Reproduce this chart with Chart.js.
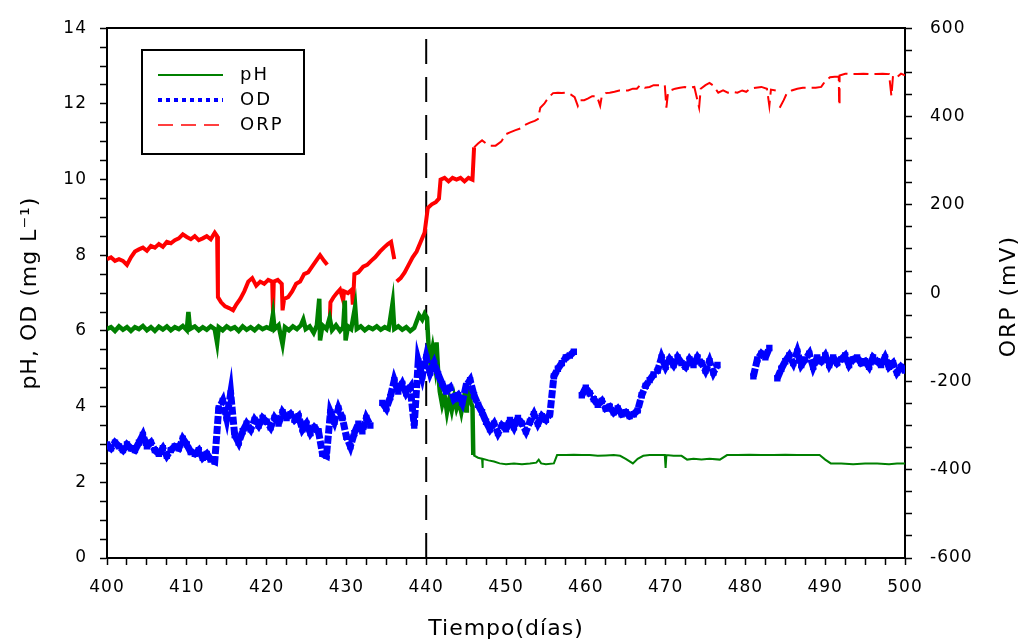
<!DOCTYPE html>
<html>
<head>
<meta charset="utf-8">
<script src="https://cdn.jsdelivr.net/npm/chart.js@4.4.1/dist/chart.umd.min.js"></script>
<style>
html,body{margin:0;padding:0;background:#fff;overflow:hidden}
#wrap{width:1022px;height:644px}
</style>
</head>
<body>
<div id="wrap"><canvas id="c" width="1022" height="644"></canvas></div>
<script>
// ---------------- DATA ----------------
const seriesLabels = ['pH', 'OD', 'ORP'];
const xTitle = 'Tiempo(días)';
const yLeftTitle = 'pH, OD (mg L⁻¹)';
const yRightTitle = 'ORP (mV)';

// pH (left axis)
const phDays = [
  400,400.5,401,401.5,402,402.5,403,403.5,404,404.5,405,405.5,406,406.5,407,407.5,408,408.5,409,409.5,
  410,410.2,410.4,411,411.5,412,412.5,413,413.5,413.8,414,414.5,415,415.5,416,416.5,417,417.5,418,418.5,
  419,419.5,420,420.5,420.8,421,421.5,422,422.3,422.8,423.3,423.8,424.3,424.6,424.9,425.4,425.9,426.3,426.6,426.7,
  427,427.5,427.9,428.2,428.7,429.2,429.6,429.8,429.9,430.2,430.6,431.1,431.3,431.8,432.3,432.8,433.3,433.8,434.3,434.8,
  435.3,435.8,436,436.5,437,437.5,438,438.5,438.8,439.1,439.5,439.8,440.1,440.3,440.5,440.8,441.1,441.3,441.5,441.7,
  442,442.3,442.6,442.9,443.2,443.5,443.8,444.1,444.4,444.7,445,445.1,445.3,445.6,445.8,445.9,446.5,447,447.05,447.1,
  447.8,448.5,449.2,450,451,452,453,453.8,454.1,454.4,455,456,456.4,457.5,458.5,459.5,460.5,461.5,462.5,463.5,
  464.3,465,465.9,466.5,467.2,468,469,469.9,470,470.1,471,472,472.7,473.5,474.5,475.5,476.8,477.7,479,480.5,
  482,483.5,485,486.5,488,489.3,490,490.7,492,493.5,495,496.5,498,499,500
];
const phValues = [
  6.05,6.1,6.0,6.12,6.03,6.1,6.0,6.1,6.05,6.13,6.02,6.1,6.0,6.11,6.04,6.12,6.02,6.1,6.05,6.13,
  6.02,6.5,6.05,6.12,6.02,6.1,6.03,6.12,6.05,5.68,6.1,6.02,6.12,6.05,6.1,6.0,6.12,6.03,6.1,6.02,
  6.12,6.05,6.1,6.05,6.45,6.05,6.15,5.65,6.1,6.02,6.12,6.05,6.15,6.3,6.05,6.12,5.95,6.15,6.85,5.75,
  6.15,6.05,6.35,6.02,6.15,6.0,6.1,6.8,5.75,6.12,6.05,6.65,6.05,6.12,6.02,6.1,6.05,6.12,6.03,6.1,
  6.05,6.75,6.05,6.12,6.03,6.1,6.0,6.08,6.25,6.42,6.3,6.45,6.35,5.6,5.2,5.55,5.1,5.7,4.9,4.4,
  4.05,4.3,3.85,4.2,3.9,4.25,3.95,4.15,3.85,4.2,3.9,4.6,4.35,4.1,4.0,2.72,2.65,2.62,2.38,2.62,
  2.58,2.55,2.5,2.48,2.5,2.48,2.5,2.52,2.6,2.5,2.48,2.5,2.72,2.72,2.73,2.72,2.72,2.7,2.71,2.72,
  2.7,2.62,2.5,2.62,2.7,2.72,2.72,2.72,2.38,2.72,2.7,2.7,2.6,2.62,2.6,2.62,2.6,2.72,2.72,2.73,
  2.72,2.72,2.73,2.72,2.72,2.72,2.6,2.5,2.5,2.48,2.5,2.5,2.48,2.5,2.5
];

// OD (left axis), one reading every half day from day 400
const odStartDay = 400;
const odDayStep = 0.5;
const odValues = [
  3.0,2.9,3.05,2.95,2.85,3.0,2.9,2.85,3.05,3.25,     // 400-404.5
  2.95,3.05,2.85,2.75,2.9,2.7,2.85,2.95,2.9,3.15,    // 405-409.5
  3.0,2.8,2.75,2.85,2.65,2.75,2.6,2.55,3.95,4.15,    // 410-414.5
  3.7,4.35,3.25,3.05,3.35,3.55,3.4,3.65,3.5,3.7,     // 415-419.5
  3.6,3.45,3.7,3.55,3.85,3.7,3.8,3.65,3.75,3.4,      // 420-424.5
  3.55,3.3,3.45,3.35,2.75,2.7,3.85,3.6,3.95,3.7,     // 425-429.5
  3.2,2.95,3.3,3.55,3.35,3.7,3.5,null,null,4.1,      // 430-434.5
  3.95,4.25,4.7,4.4,4.6,4.35,4.5,3.5,5.2,4.8,        // 435-439.5
  5.3,4.9,5.15,4.85,4.6,4.4,4.5,4.2,4.3,4.1,         // 440-444.5
  4.55,4.7,4.3,4.05,3.85,3.6,3.4,3.55,3.3,3.5,       // 445-449.5
  3.4,3.65,3.45,3.7,3.55,3.35,3.6,3.8,3.55,3.75,     // 450-454.5
  3.65,3.8,4.8,5.0,5.15,5.3,5.35,5.45,null,4.3,      // 455-459.5
  4.5,4.35,4.2,4.05,4.15,3.95,4.0,3.85,3.95,3.8,     // 460-464.5
  3.85,3.75,3.8,3.9,4.3,4.55,4.7,4.85,4.95,5.3,      // 465-469.5
  5.05,5.25,5.1,5.3,5.15,5.05,5.25,5.1,5.3,5.15,     // 470-474.5
  4.95,5.2,4.9,5.1,null,null,null,null,null,null,    // 475-479.5
  null,null,4.8,5.25,5.4,5.3,5.55,null,4.75,5.0,     // 480-484.5
  5.2,5.35,5.15,5.45,5.1,5.25,5.4,5.05,5.3,5.2,      // 485-489.5
  5.35,5.1,5.3,5.15,5.25,5.35,5.1,5.25,5.3,5.15,     // 490-494.5
  5.2,5.05,5.3,5.2,5.1,5.3,5.05,5.15,4.9,5.05,       // 495-499.5
  4.95                                               // 500
];

// ORP (right axis, mV)
const orpDays = [
  400,400.5,401,401.5,402,402.5,403,403.5,404,404.5,405,405.5,406,406.5,407,407.5,408,408.5,409,409.5,
  410,410.5,411,411.5,412,412.5,413,413.5,413.8,413.9,414.3,414.8,415.3,415.8,416.2,416.7,417.2,417.7,418.2,418.7,
  419.2,419.7,420.2,420.7,420.8,420.9,421.4,421.9,422,422.2,422.7,423.2,423.7,424.2,424.7,425.2,425.7,426.2,426.7,427.2,
  427.6,427.75,427.9,428,428.4,428.8,429.2,429.6,429.7,430.2,430.7,430.8,430.9,431,431.5,432.1,432.6,433.1,433.6,434.2,
  434.7,435.2,435.6,436,436.15,436.3,436.8,437.3,437.8,438.3,438.8,439.3,439.8,440.2,440.7,441.2,441.6,441.8,442.3,442.8,
  443.3,443.8,444.3,444.8,445.3,445.8,446,446.5,447,447.5,448,448.7,449.4,450,450.5,451.2,451.8,452.4,453,453.6,
  454,454.3,454.8,455.1,455.5,455.9,456.5,457,457.6,458.1,458.6,459,459.3,459.8,460.3,460.8,461.4,461.8,462,462.5,
  463,463.6,464.2,464.7,465.3,465.9,466.4,466.8,467.4,468,468.5,469.2,469.9,470.1,470.3,470.6,471.2,471.8,472.4,473,
  473.6,474.2,474.4,475,475.5,475.9,476.6,477.2,477.8,478.4,479,479.6,480.1,480.6,481.3,482,482.7,483,483.2,483.8,
  484,484.3,484.8,485.2,485.8,486.5,487.2,488,488.8,489.5,490,490.6,491.2,491.7,491.75,491.8,492.5,493.2,494,494.8,
  495.6,496.4,497.2,498,498.3,498.5,499,499.5,500
];
const orpValues = [
  77,81,73,77,73,64,81,94,99,103,96,107,103,111,105,116,113,120,124,133,
  127,122,129,120,124,129,122,137,129,-9,-21,-30,-34,-39,-26,-13,4,26,34,17,
  26,21,30,26,-43,26,30,21,-39,-13,-9,4,21,26,43,47,60,73,86,73,
  64,null,-73,-21,-9,0,8,-17,4,0,8,-26,4,43,47,60,64,73,81,94,
  103,111,116,77,null,26,34,47,64,81,94,116,137,193,201,206,214,257,261,253,
  261,257,261,253,261,257,330,339,346,339,334,334,343,360,364,369,373,381,386,390,
  394,420,429,437,446,453,454,453,454,450,444,424,437,437,441,446,446,424,446,453,
  454,456,459,459,459,463,463,471,465,467,471,471,471,420,454,459,463,465,467,465,
  467,420,463,471,476,471,454,459,454,456,454,459,456,463,465,467,463,424,461,459,
  null,420,437,453,459,463,465,465,465,467,480,489,490,490,425,493,497,496,496,497,
  496,496,497,496,446,493,489,497,493
];

// Marker day (vertical dashed line) and axis ranges / ticks
const eventDay = [440, 440];
const eventLevel = [0, 14];
const xRange = [400, 500];
const yLeftRange = [0, 14];
const yRightRange = [-600, 600];
const xTickStep = 2.5, xLabelEvery = 10;
const yLeftTickStep = 0.5, yLeftLabelEvery = 2;
const yRightTickStep = 50, yRightLabelEvery = 200;

// ---------------- CHART ----------------
const FONT = "'DejaVu Sans', 'Liberation Sans', sans-serif";
Chart.defaults.font.family = FONT;
Chart.defaults.color = '#000';

const toXY = (xs, ys) => xs.map((x, i) => ({x: x, y: ys[i]}));
const odData = odValues.map((v, i) => ({x: odStartDay + i * odDayStep, y: v}));

const COLORS = {pH: '#008000', OD: '#0000ff', ORP: '#ff0000'};

const legendStyle = {
  pH:  {dash: [], width: 2},
  OD:  {dash: [4, 4], width: 4},
  ORP: {dash: [15, 8], width: 1.5}
};

const extras = {
  id: 'extras',
  beforeDraw(chart) {
    chart.ctx.letterSpacing = '1px';
  },
  afterDraw(chart) {
    const ctx = chart.ctx;
    ctx.save();
    // legend box
    const bx = 142, by = 50, bw = 162, bh = 104;
    ctx.fillStyle = '#fff';
    ctx.fillRect(bx, by, bw, bh);
    ctx.lineWidth = 2;
    ctx.strokeStyle = '#000';
    ctx.setLineDash([]);
    ctx.strokeRect(bx, by, bw, bh);
    ctx.font = '18px ' + FONT;
    ctx.letterSpacing = '2px';
    ctx.textBaseline = 'middle';
    ctx.textAlign = 'left';
    seriesLabels.forEach((lab, i) => {
      const y = 75 + i * 25;
      const st = legendStyle[lab];
      ctx.beginPath();
      ctx.setLineDash(st.dash);
      ctx.lineWidth = st.width;
      ctx.strokeStyle = COLORS[lab];
      ctx.moveTo(158, y);
      ctx.lineTo(223, y);
      ctx.stroke();
      ctx.setLineDash([]);
      ctx.fillStyle = '#000';
      ctx.fillText(lab, 240, y);
    });
    // right axis title (reads bottom to top)
    const a = chart.chartArea;
    ctx.translate(chart.width - 12.5, (a.top + a.bottom) / 2 + 3);
    ctx.rotate(-Math.PI / 2);
    ctx.font = '22px ' + FONT;
    ctx.letterSpacing = '2px';
    ctx.textAlign = 'center';
    ctx.textBaseline = 'middle';
    ctx.fillStyle = '#000';
    ctx.fillText(yRightTitle, 0, 0);
    ctx.restore();
  }
};

const axisBorder = {display: true, color: '#000', width: 2};

new Chart(document.getElementById('c'), {
  type: 'line',
  data: {
    datasets: [
      {
        label: 'OD',
        data: odData,
        yAxisID: 'y',
        showLine: true,
        borderColor: COLORS.OD,
        borderWidth: 7,
        borderDash: [8, 2],
        tension: 0,
        pointStyle: 'rect',
        pointRadius: 4.5,
        pointBorderWidth: 0,
        pointBackgroundColor: COLORS.OD,
        backgroundColor: COLORS.OD,
        order: 0
      },
      {
        label: 'pH',
        data: toXY(phDays, phValues),
        yAxisID: 'y',
        borderColor: COLORS.pH,
        borderWidth: 2,
        pointRadius: 0,
        tension: 0,
        segment: {
          borderWidth: c => (c.p0.parsed.x < 445.9 ? 4.5 : 2)
        },
        order: 1
      },
      {
        label: 'ORP',
        data: toXY(orpDays, orpValues),
        yAxisID: 'y1',
        borderColor: COLORS.ORP,
        borderWidth: 2,
        borderDash: [],
        pointRadius: 0,
        tension: 0,
        segment: {
          borderWidth: c => (c.p0.parsed.x < 446 ? 4 : 2),
          borderDash: c => (c.p0.parsed.x < 446 ? undefined : [15, 6])
        },
        order: 2
      },
      {
        label: 'event',
        data: toXY(eventDay, eventLevel),
        yAxisID: 'y',
        borderColor: '#000',
        borderWidth: 2,
        borderDash: [25, 13],
        pointRadius: 0,
        order: 3
      }
    ]
  },
  options: {
    responsive: false,
    animation: false,
    devicePixelRatio: 1,
    layout: {padding: {top: 28, left: 0, right: 0, bottom: 0}},
    plugins: {legend: {display: false}, tooltip: {enabled: false}},
    scales: {
      x: {
        type: 'linear',
        position: 'bottom',
        min: xRange[0], max: xRange[1],
        afterFit: s => { s.height = 86; },
        border: axisBorder,
        grid: {drawOnChartArea: false, drawTicks: true, tickLength: 7, tickColor: '#000', tickWidth: 1.5},
        ticks: {
          stepSize: xTickStep, autoSkip: false, maxRotation: 0, padding: 12,
          font: {size: 17}, color: '#000',
          callback: v => (Math.abs(v % xLabelEvery) < 1e-9 ? String(v) : '')
        },
        title: {display: true, text: xTitle, font: {size: 22}, color: '#000', padding: {top: 0, bottom: 1.3}}
      },
      xTop: {
        type: 'linear',
        position: 'top',
        min: xRange[0], max: xRange[1],
        afterFit: s => { s.height = 0; },
        border: axisBorder,
        grid: {drawOnChartArea: false, drawTicks: false},
        ticks: {display: false}
      },
      y: {
        type: 'linear',
        position: 'left',
        min: yLeftRange[0], max: yLeftRange[1],
        afterFit: s => { s.width = 107; },
        border: axisBorder,
        grid: {drawOnChartArea: false, drawTicks: true, tickLength: 7, tickColor: '#000', tickWidth: 1.5},
        ticks: {
          stepSize: yLeftTickStep, autoSkip: false, padding: 13,
          font: {size: 17}, color: '#000',
          callback: v => (Math.abs(v % yLeftLabelEvery) < 1e-9 ? String(v) : '')
        },
        title: {display: true, text: yLeftTitle, font: {size: 22}, color: '#000', padding: {top: 17, bottom: 17}}
      },
      y1: {
        type: 'linear',
        position: 'right',
        min: yRightRange[0], max: yRightRange[1],
        afterFit: s => { s.width = 117; },
        border: axisBorder,
        grid: {drawOnChartArea: false, drawTicks: true, tickLength: 7, tickColor: '#000', tickWidth: 1.5},
        ticks: {
          stepSize: yRightTickStep, autoSkip: false, padding: 18,
          font: {size: 17}, color: '#000',
          callback: v => (Math.abs(v % yRightLabelEvery) < 1e-9 ? String(v) : '')
        }
      }
    }
  },
  plugins: [extras]
});
</script>
</body>
</html>
